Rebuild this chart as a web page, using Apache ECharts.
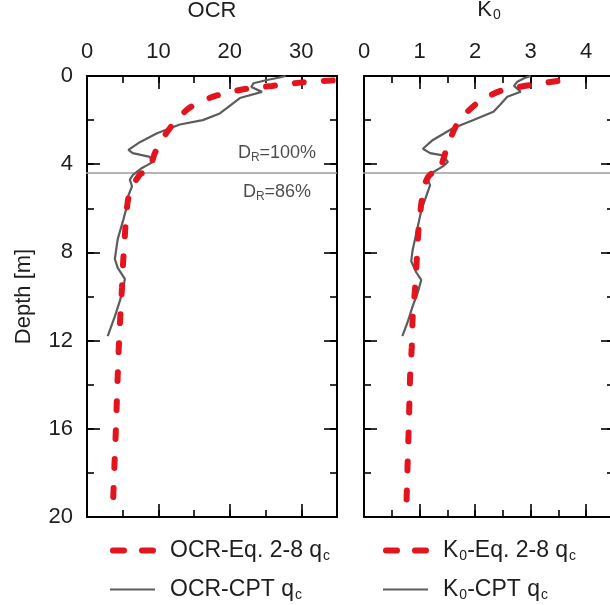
<!DOCTYPE html>
<html><head><meta charset="utf-8">
<script src="https://cdn.jsdelivr.net/npm/echarts@6/dist/echarts.min.js"></script>
<style>html,body{margin:0;padding:0;background:#fff}#c{width:610px;height:605px}</style>
</head><body><div id="c"></div>
<script>
// ---------------- data ----------------
const ocrEqDepth = [0.16, 0.21, 0.3, 0.45, 0.6, 0.9, 1.2, 1.5, 2.0, 2.5, 3.0, 3.5, 4.0, 4.38, 4.42, 4.7, 5.0, 5.6, 6.5, 7.5, 8.5, 9.6, 11.0, 12.3, 13.6, 15.0, 16.4, 17.6, 18.9, 19.25];
const ocrEqVal   = [36.5, 33.8, 29.8, 25.9, 21.9, 18.0, 15.6, 14.1, 12.5, 11.3, 10.3, 9.5, 9.0, 8.6, 7.6, 6.9, 6.4, 5.75, 5.45, 5.25, 5.05, 4.9, 4.65, 4.45, 4.3, 4.15, 4.0, 3.85, 3.7, 3.65];

const ocrCptDepth = [0.0, 0.08, 0.18, 0.33, 0.5, 0.72, 1.0, 1.4, 1.7, 2.0, 2.2, 2.6, 3.0, 3.35, 3.5, 3.67, 3.9, 4.03, 4.17, 4.5, 4.7, 5.0, 5.5, 5.9, 6.5, 7.4, 8.3, 8.7, 9.2, 9.6, 10.2, 10.9, 11.8];
const ocrCptVal   = [27.8, 26.8, 25.2, 23.3, 23.0, 24.5, 21.4, 19.8, 18.6, 16.2, 13.0, 9.8, 7.4, 5.8, 6.4, 8.8, 9.2, 8.5, 7.7, 6.4, 6.0, 6.3, 5.7, 5.6, 5.1, 4.3, 3.9, 4.3, 5.3, 5.1, 4.6, 3.9, 2.9];

const k0EqDepth = [0.17, 0.21, 0.41, 0.65, 0.9, 1.24, 1.7, 2.2, 2.8, 3.36, 4.0, 4.38, 4.42, 4.6, 5.0, 5.6, 7.0, 8.35, 9.6, 11.0, 12.3, 13.6, 15.0, 16.4, 17.6, 18.9, 19.25];
const k0EqVal   = [3.75, 3.54, 2.99, 2.49, 2.25, 2.03, 1.83, 1.67, 1.56, 1.48, 1.40, 1.36, 1.22, 1.15, 1.08, 1.04, 0.98, 0.95, 0.92, 0.875, 0.86, 0.83, 0.815, 0.80, 0.785, 0.77, 0.765];

const k0CptDepth = [0.0, 0.1, 0.26, 0.45, 0.71, 0.94, 1.3, 1.62, 2.0, 2.37, 2.9, 3.3, 3.5, 3.6, 3.9, 4.1, 4.4, 4.6, 4.95, 5.6, 6.0, 6.8, 7.9, 8.4, 8.9, 9.25, 9.8, 10.45, 11.2, 11.8];
const k0CptVal   = [3.0, 2.88, 2.76, 2.7, 2.82, 2.58, 2.45, 2.33, 1.97, 1.6, 1.24, 1.06, 1.19, 1.42, 1.51, 1.42, 1.22, 1.13, 1.19, 1.10, 1.04, 0.97, 0.875, 0.85, 0.94, 1.03, 0.97, 0.875, 0.78, 0.69];

const drBoundaryDepth = 4.4;
const drLabels = ['D{s|R}=100%', 'D{s|R}=86%'];
const drLabelDepth = [3.5, 5.27];
const drLabelOcr = 26.6;

const seriesNames = ['OCR-Eq. 2-8 qc', 'OCR-CPT qc', 'K0-Eq. 2-8 qc', 'K0-CPT qc'];
const depthRange = [0, 20], depthStep = 4, depthMinor = 2;
const ocrRange = [0, 35], ocrStep = 10, ocrMinor = 5;
const k0Range = [0, 4.5], k0Step = 1, k0Minor = 0.5;

// ---------------- styling ----------------
const FONT = 'Liberation Sans';
const TXT = '#1e1e1e';
const RED = '#e3141e';
const GREY = '#5c5c5c';
const zip = (ys, xs) => ys.map((d, i) => [xs[i], d]);
const subStyle = {fontSize: 14, fontFamily: FONT, color: TXT, padding: [11, 0, 0, 1]};
const fmt = n => n.replace('K0', 'K{s|0}').replace(/qc$/, 'q{s|c}');

function xAx(grid, range, step, pos, major, labels, name) {
  const a = {
    type: 'value', gridIndex: grid, position: pos, min: range[0], max: range[1], interval: step,
    axisLine: {show: major, onZero: false, lineStyle: {color: '#000', width: 2}},
    axisTick: {show: true, inside: true, length: major ? 13 : 7, lineStyle: {color: '#000', width: 1.6}},
    axisLabel: {show: labels, margin: 13, fontSize: 22, fontFamily: FONT, color: TXT, showMaxLabel: false},
    splitLine: {show: false}
  };
  if (name) {
    a.name = name; a.nameLocation = 'middle'; a.nameGap = 54;
    a.nameTextStyle = {fontSize: 22, fontFamily: FONT, color: TXT, rich: {s: subStyle}};
  }
  return a;
}
function yAx(grid, pos, major, labels, name) {
  const a = {
    type: 'value', gridIndex: grid, position: pos, inverse: true,
    min: depthRange[0], max: depthRange[1], interval: major ? depthStep : depthMinor,
    axisLine: {show: major, onZero: false, lineStyle: {color: '#000', width: 2}},
    axisTick: {show: true, inside: true, length: major ? 13 : 7, lineStyle: {color: '#000', width: 1.6}},
    axisLabel: {show: labels, margin: 14, fontSize: 22, fontFamily: FONT, color: TXT},
    splitLine: {show: false}
  };
  if (name) {
    a.name = name; a.nameLocation = 'middle'; a.nameGap = 52; a.nameRotate = 90;
    a.nameTextStyle = {fontSize: 22, fontFamily: FONT, color: TXT};
  }
  return a;
}

const xAxis = [
  xAx(0, ocrRange, ocrStep, 'top', true, true, 'OCR'),
  xAx(0, ocrRange, ocrMinor, 'top', false, false),
  xAx(0, ocrRange, ocrStep, 'bottom', true, false),
  xAx(0, ocrRange, ocrMinor, 'bottom', false, false),
  xAx(1, k0Range, k0Step, 'top', true, true, 'K{s|0}'),
  xAx(1, k0Range, k0Minor, 'top', false, false),
  xAx(1, k0Range, k0Step, 'bottom', true, false),
  xAx(1, k0Range, k0Minor, 'bottom', false, false)
];
const yAxis = [
  yAx(0, 'left', true, true, 'Depth [m]'),
  yAx(0, 'left', false, false),
  yAx(0, 'right', true, false),
  yAx(0, 'right', false, false),
  yAx(1, 'left', true, false),
  yAx(1, 'left', false, false),
  yAx(1, 'right', true, false),
  yAx(1, 'right', false, false)
];

const dashStyle = {color: RED, width: 6, type: [9, 20], dashOffset: 14, cap: 'round'};
const legendDash = {color: RED, width: 6, type: [11, 18], dashOffset: -3, cap: 'round'};
const solidStyle = {color: GREY, width: 2.2};
const boundaryStyle = {color: '#9c9c9c', width: 1.5};

const series = [
  {name: seriesNames[1], type: 'line', xAxisIndex: 0, yAxisIndex: 0, symbol: 'none', z: 3,
   data: zip(ocrCptDepth, ocrCptVal), lineStyle: solidStyle, itemStyle: {color: GREY}},
  {name: seriesNames[0], type: 'line', xAxisIndex: 0, yAxisIndex: 0, symbol: 'none', z: 4, smooth: 0.2,
   data: zip(ocrEqDepth, ocrEqVal), lineStyle: dashStyle, itemStyle: {color: RED}},
  {name: 'boundary-ocr', type: 'line', xAxisIndex: 0, yAxisIndex: 0, symbol: 'none', clip: false, silent: true, z: 2,
   data: [[ocrRange[0] - 1, drBoundaryDepth], [ocrRange[1], drBoundaryDepth]], lineStyle: boundaryStyle},
  {name: 'dr-labels', type: 'scatter', xAxisIndex: 0, yAxisIndex: 0, symbolSize: 0, silent: true,
   data: drLabelDepth.map((d, i) => ({value: [drLabelOcr, d], label: {formatter: drLabels[i]}})),
   label: {show: true, position: 'inside', fontSize: 18, fontFamily: FONT, color: TXT,
           rich: {s: {fontSize: 12, fontFamily: FONT, color: TXT, padding: [9, 0, 0, 0]}}}},
  {name: seriesNames[3], type: 'line', xAxisIndex: 4, yAxisIndex: 4, symbol: 'none', z: 3,
   data: zip(k0CptDepth, k0CptVal), lineStyle: solidStyle, itemStyle: {color: GREY}},
  {name: seriesNames[2], type: 'line', xAxisIndex: 4, yAxisIndex: 4, symbol: 'none', z: 4, smooth: 0.2,
   data: zip(k0EqDepth, k0EqVal), lineStyle: dashStyle, itemStyle: {color: RED}},
  {name: 'boundary-k0', type: 'line', xAxisIndex: 4, yAxisIndex: 4, symbol: 'none', clip: false, silent: true, z: 2,
   data: [[k0Range[0] - 0.12, drBoundaryDepth], [k0Range[1] + 0.5, drBoundaryDepth]], lineStyle: boundaryStyle}
];

function legendAt(left, names) {
  return {
    show: true, orient: 'vertical', left: left, top: 537, selectedMode: false,
    itemWidth: 45, itemHeight: 14, itemGap: 12, padding: 0,
    data: names.map((n, i) => ({name: n, itemStyle: {opacity: 0}, lineStyle: i === 0 ? legendDash : solidStyle})),
    formatter: fmt,
    textStyle: {fontSize: 23, fontFamily: FONT, color: TXT, lineHeight: 27, padding: [0, 0, 0, 10], rich: {s: subStyle}}
  };
}

const chart = echarts.init(document.getElementById('c'), null, {renderer: 'canvas'});
chart.setOption({
  animation: false,
  backgroundColor: '#fff',
  grid: [
    {left: 87, top: 76, width: 250, height: 441, containLabel: false, outerBoundsMode: 'none'},
    {left: 364, top: 76, width: 250, height: 441, containLabel: false, outerBoundsMode: 'none'}
  ],
  xAxis: xAxis,
  yAxis: yAxis,
  legend: [legendAt(107, seriesNames.slice(0, 2)), legendAt(380, seriesNames.slice(2, 4))],
  series: series
});
</script></body></html>
